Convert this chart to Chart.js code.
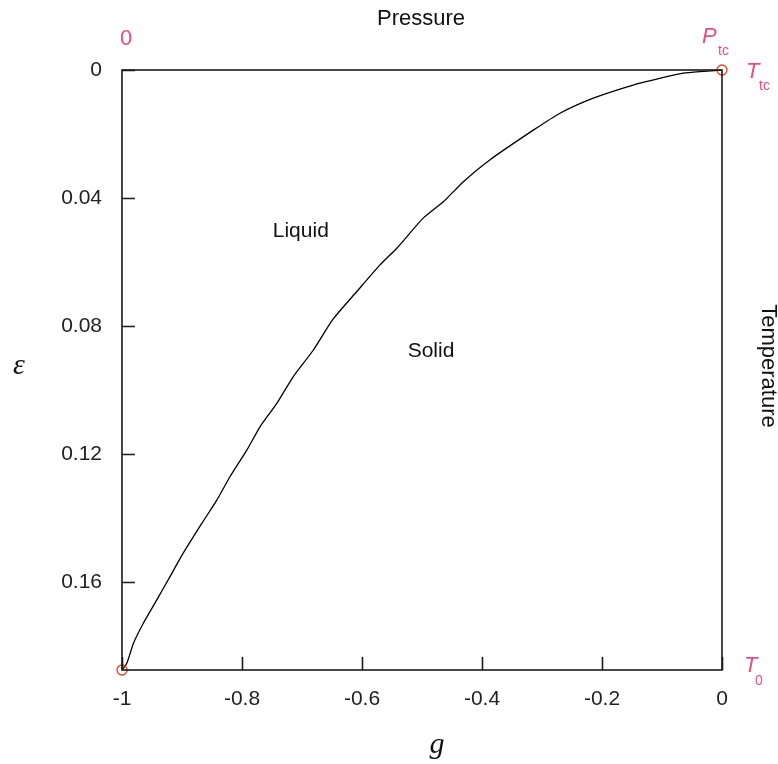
<!DOCTYPE html>
<html>
<head>
<meta charset="utf-8">
<script src="https://cdn.jsdelivr.net/npm/chart.js@4"></script>
<style>
  html, body { margin: 0; padding: 0; background: #fff; }
  #wrap { width: 778px; height: 764px; position: relative; }
</style>
</head>
<body>
<div id="wrap"><canvas id="chart"></canvas></div>
<script>
// melting line
const gValues = [-1, -0.992, -0.981, -0.9645, -0.942, -0.92, -0.898, -0.867, -0.842, -0.82,
                 -0.792, -0.77, -0.742, -0.7145, -0.681, -0.648, -0.609, -0.57, -0.542, -0.498,
                 -0.4645, -0.431, -0.387, -0.3145, -0.27, -0.2145, -0.148, -0.092, -0.0645, -0.037, 0];
const epsValues = [0.1875, 0.1854, 0.1792, 0.1729, 0.1656, 0.1583, 0.151, 0.1417, 0.1344, 0.1271,
                   0.1188, 0.1115, 0.1042, 0.0958, 0.0875, 0.0778, 0.0693, 0.0609, 0.0557, 0.0463,
                   0.0412, 0.0349, 0.0281, 0.0188, 0.0135, 0.0088, 0.0047, 0.0021, 0.001, 0.0005, 0];
const markerG = [-1, 0];
const markerEps = [0.1875, 0];
const xTicks = [-1, -0.8, -0.6, -0.4, -0.2, 0];
const yTicks = [0, 0.04, 0.08, 0.12, 0.16];
const regionNames = ["Liquid", "Solid"];
const regionG = [-0.702, -0.485];
const regionEps = [0.0505, 0.0878];

const FONT = "'Liberation Sans', Arial, sans-serif";
const SERIF = "'Liberation Serif', 'DejaVu Serif', serif";
const PINK = "#ec4c84";

const curve = gValues.map((g, i) => ({ x: g, y: epsValues[i] }));
const markers = markerG.map((g, i) => ({ x: g, y: markerEps[i] }));

// frame, inward ticks and the loose labels
const decorations = {
    id: "decorations",
    afterDraw(chart) {
        const ctx = chart.ctx;
        const a = chart.chartArea;
        const xs = chart.scales.x;
        const ys = chart.scales.y;
        ctx.save();
        ctx.strokeStyle = "#1a1a1a";
        ctx.lineWidth = 1.6;
        ctx.strokeRect(a.left, a.top, a.right - a.left, a.bottom - a.top);

        ctx.beginPath();
        xTicks.forEach(v => {
            const px = Math.round(xs.getPixelForValue(v)) + 0.5;
            ctx.moveTo(px, a.bottom);
            ctx.lineTo(px, a.bottom - 13);
        });
        yTicks.forEach(v => {
            const py = Math.round(ys.getPixelForValue(v)) + 0.5;
            ctx.moveTo(a.left, py);
            ctx.lineTo(a.left + 13, py);
        });
        ctx.stroke();

        ctx.fillStyle = "#111";
        ctx.font = "21px " + FONT;
        ctx.textAlign = "center";
        ctx.textBaseline = "middle";
        regionNames.forEach((name, i) => {
            ctx.fillText(name, xs.getPixelForValue(regionG[i]), ys.getPixelForValue(regionEps[i]));
        });

        const cx = (a.left + a.right) / 2;
        ctx.font = "22px " + FONT;
        ctx.fillText("Pressure", cx - 1, a.top - 51);

        ctx.save();
        ctx.translate(a.right + 46, (a.top + a.bottom) / 2 - 4);
        ctx.rotate(Math.PI / 2);
        ctx.fillText("Temperature", 0, 0);
        ctx.restore();

        ctx.textBaseline = "alphabetic";
        ctx.font = "italic 30px " + SERIF;
        ctx.fillText("g", cx + 15, a.bottom + 83);
        ctx.fillText("\u03b5", 19, (a.top + a.bottom) / 2 + 4);

        // pink corner labels
        ctx.fillStyle = PINK;
        ctx.font = "22px " + FONT;
        ctx.fillText("0", a.left + 4, a.top - 25);
        ctx.textAlign = "left";
        ctx.font = "italic 22px " + FONT;
        ctx.fillText("P", a.right - 20, a.top - 27);
        ctx.fillText("T", a.right + 24, a.top + 8);
        ctx.fillText("T", a.right + 22, a.bottom + 2);
        ctx.font = "14px " + FONT;
        ctx.fillText("tc", a.right - 4, a.top - 15);
        ctx.fillText("tc", a.right + 37, a.top + 20);
        ctx.fillText("0", a.right + 33, a.bottom + 15);
        ctx.restore();
    }
};

new Chart(document.getElementById("chart"), {
    type: "scatter",
    data: {
        datasets: [
            {
                type: "line",
                data: curve,
                borderColor: "#000",
                borderWidth: 1.3,
                pointRadius: 0,
                fill: false,
                tension: 0.2,
                order: 2
            },
            {
                data: markers,
                pointStyle: "circle",
                pointRadius: 5,
                pointBorderWidth: 1.3,
                pointBorderColor: "#e8401c",
                pointBackgroundColor: "rgba(0,0,0,0)",
                clip: false,
                order: 1
            }
        ]
    },
    options: {
        responsive: true,
        maintainAspectRatio: false,
        animation: false,
        layout: { padding: { top: 70, right: 56, bottom: 0, left: 0 } },
        plugins: {
            legend: { display: false },
            tooltip: { enabled: false },
            title: { display: false }
        },
        scales: {
            x: {
                type: "linear",
                min: -1,
                max: 0,
                grid: { display: false, drawTicks: false },
                border: { display: false },
                afterBuildTicks: (s) => { s.ticks = xTicks.map(v => ({ value: v })); },
                afterFit: (s) => { s.height = 94; },
                ticks: {
                    color: "#222",
                    padding: 17,
                    maxRotation: 0,
                    font: { family: FONT, size: 21 },
                    callback: (v) => String(Math.round(v * 10) / 10)
                }
            },
            y: {
                type: "linear",
                reverse: true,
                min: 0,
                max: 0.1875,
                grid: { display: false, drawTicks: false },
                border: { display: false },
                afterBuildTicks: (s) => { s.ticks = yTicks.map(v => ({ value: v })); },
                afterFit: (s) => { s.width = 122; },
                ticks: {
                    color: "#222",
                    padding: 20,
                    font: { family: FONT, size: 21 },
                    callback: (v) => String(Math.round(v * 100) / 100)
                }
            }
        }
    },
    plugins: [decorations]
});
</script>
</body>
</html>
